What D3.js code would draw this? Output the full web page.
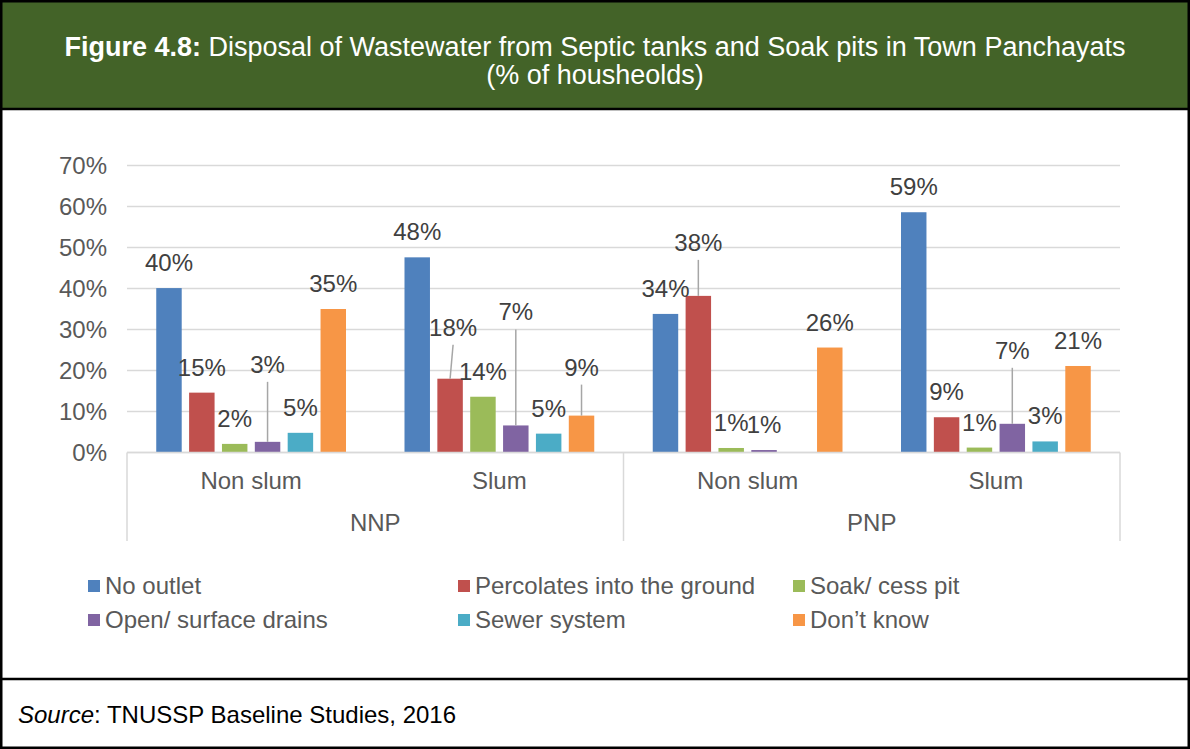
<!DOCTYPE html>
<html><head><meta charset="utf-8">
<script src="https://cdn.jsdelivr.net/npm/d3@7"></script>
<style>body{margin:0;background:#fff} svg{display:block}</style>
</head><body>
<script>
// ---- data ----
const groups = ["NNP", "PNP"];
const categories = ["Non slum", "Slum", "Non slum", "Slum"];
const categoryGroup = ["NNP", "NNP", "PNP", "PNP"];
const series = ["No outlet", "Percolates into the ground", "Soak/ cess pit", "Open/ surface drains", "Sewer system", "Don\u2019t know"];
const noOutlet   = [40.1, 47.6, 33.8, 58.6];
const percolates = [14.6, 18.0, 38.2, 8.6];
const soakPit    = [2.1, 13.6, 1.1, 1.2];
const openDrains = [2.6, 6.6, 0.6, 7.0];
const sewer      = [4.8, 4.6, null, 2.7];
const dontKnow   = [35.0, 9.0, 25.6, 21.1];
const yTicks = [0, 10, 20, 30, 40, 50, 60, 70];
const seriesValues = [noOutlet, percolates, soakPit, openDrains, sewer, dontKnow];

// ---- style / layout ----
const W = 1190, H = 749;
const colors = ["#4f81bd", "#c0504d", "#9bbb59", "#8064a2", "#4bacc6", "#f79646"];
const font = "'Liberation Sans', Arial, sans-serif";
const fs = 24;
const plot = {left: 127, right: 1120, top: 165.5, bottom: 452.5};
// manual label lifts (px) for labels moved with leader lines
const labelShift = [
  {c: 0, s: 3, lift: 52, dx: 0},
  {c: 1, s: 1, lift: 26, dx: 3},
  {c: 1, s: 3, lift: 88, dx: 0},
  {c: 1, s: 5, lift: 23, dx: 0},
  {c: 2, s: 1, lift: 28, dx: 0},
  {c: 3, s: 3, lift: 48, dx: 0}
];

const svg = d3.select("body").append("svg").attr("width", W).attr("height", H);
svg.append("rect").attr("x", 0).attr("y", 0).attr("width", W).attr("height", H).attr("fill", "#fff");

// title box
svg.append("rect").attr("x", 0).attr("y", 0).attr("width", W).attr("height", 109).attr("fill", "#436328");
const t1 = svg.append("text").attr("x", W / 2).attr("y", 56).attr("text-anchor", "middle")
  .attr("fill", "#fff").attr("font-family", font).attr("font-size", 27);
t1.append("tspan").attr("font-weight", "bold").text("Figure 4.8:");
t1.append("tspan").text(" Disposal of Wastewater from Septic tanks and Soak pits in Town Panchayats");
svg.append("text").attr("x", W / 2).attr("y", 84).attr("text-anchor", "middle")
  .attr("fill", "#fff").attr("font-family", font).attr("font-size", 27).text("(% of housheolds)");

// scales
const y = d3.scaleLinear().domain([0, 70]).range([plot.bottom, plot.top]);
const x0 = d3.scaleBand().domain(d3.range(categories.length)).range([plot.left, plot.right]).padding(0);
const x1 = d3.scaleBand().domain(d3.range(series.length)).range([0, x0.bandwidth()])
  .paddingInner(0.225).paddingOuter(0.89);

// gridlines
svg.append("g").selectAll("line").data(yTicks).join("line")
  .attr("x1", plot.left).attr("x2", plot.right)
  .attr("y1", d => y(d)).attr("y2", d => y(d))
  .attr("stroke", "#d9d9d9").attr("stroke-width", 1.5);

// y axis labels
const yAxis = svg.append("g").attr("transform", `translate(${plot.left - 20},0)`)
  .call(d3.axisLeft(y).tickValues(yTicks).tickSize(0).tickPadding(0).tickFormat(d => d + "%"));
yAxis.select(".domain").remove();
yAxis.selectAll("text").attr("font-family", font).attr("font-size", fs).attr("fill", "#595959");

// bars
const cats = svg.append("g").selectAll("g").data(d3.range(categories.length)).join("g")
  .attr("transform", c => `translate(${x0(c)},0)`);
cats.selectAll("rect").data(c => seriesValues.map((vals, s) => ({c, s, v: vals[c]})).filter(d => d.v != null))
  .join("rect")
  .attr("x", d => x1(d.s)).attr("width", x1.bandwidth())
  .attr("y", d => y(d.v)).attr("height", d => y(0) - y(d.v))
  .attr("fill", d => colors[d.s]);

// data labels
const labelData = [];
seriesValues.forEach((vals, s) => vals.forEach((v, c) => {
  if (v == null) return;
  const sh = labelShift.find(e => e.c === c && e.s === s);
  labelData.push({c, s, v, lift: sh ? sh.lift : 0, dx: sh ? sh.dx : 0});
}));
const cx = d => x0(d.c) + x1(d.s) + x1.bandwidth() / 2;
svg.append("g").selectAll("line").data(labelData.filter(d => d.lift > 0)).join("line")
  .attr("x1", d => cx(d) + d.dx).attr("y1", d => y(d.v) - 17 - d.lift + 9)
  .attr("x2", d => cx(d)).attr("y2", d => y(d.v))
  .attr("stroke", "#a6a6a6").attr("stroke-width", 1.5);
svg.append("g").selectAll("text").data(labelData).join("text")
  .attr("x", d => cx(d) + d.dx).attr("y", d => y(d.v) - 17 - d.lift)
  .attr("text-anchor", "middle").attr("font-family", font).attr("font-size", fs).attr("fill", "#404040")
  .text(d => Math.round(d.v) + "%");

// x axis: baseline, separators, labels
svg.append("line").attr("x1", plot.left).attr("x2", plot.right).attr("y1", y(0)).attr("y2", y(0))
  .attr("stroke", "#d9d9d9").attr("stroke-width", 1.5);
const sepIdx = [0, 2, 4];
svg.append("g").selectAll("line").data(sepIdx).join("line")
  .attr("x1", i => i < categories.length ? x0(i) : plot.right)
  .attr("x2", i => i < categories.length ? x0(i) : plot.right)
  .attr("y1", y(0)).attr("y2", 541)
  .attr("stroke", "#d9d9d9").attr("stroke-width", 1.5);
svg.append("g").selectAll("text").data(categories).join("text")
  .attr("x", (d, i) => x0(i) + x0.bandwidth() / 2).attr("y", 489)
  .attr("text-anchor", "middle").attr("font-family", font).attr("font-size", fs).attr("fill", "#595959")
  .text(d => d);
svg.append("g").selectAll("text").data(groups).join("text")
  .attr("x", g => {
    const idx = categoryGroup.map((cg, i) => cg === g ? i : -1).filter(i => i >= 0);
    return (x0(idx[0]) + x0(idx[idx.length - 1]) + x0.bandwidth()) / 2;
  })
  .attr("y", 531).attr("text-anchor", "middle").attr("font-family", font).attr("font-size", fs).attr("fill", "#595959")
  .text(d => d);

// legend
const legCols = [88, 458, 793];
const legRows = [594, 628];
const leg = svg.append("g").selectAll("g").data(series).join("g")
  .attr("transform", (d, i) => `translate(${legCols[i % 3]},${legRows[Math.floor(i / 3)]})`);
leg.append("rect").attr("x", 0).attr("y", -14).attr("width", 12).attr("height", 12).attr("fill", (d, i) => colors[i]);
leg.append("text").attr("x", 17).attr("y", 0).attr("font-family", font).attr("font-size", fs).attr("fill", "#595959")
  .text(d => d);

// source
const src = svg.append("text").attr("x", 18).attr("y", 723).attr("font-family", font).attr("font-size", fs).attr("fill", "#000");
src.append("tspan").attr("font-style", "italic").text("Source");
src.append("tspan").text(": TNUSSP Baseline Studies, 2016");

// borders
svg.append("line").attr("x1", 0).attr("x2", W).attr("y1", 109).attr("y2", 109).attr("stroke", "#000").attr("stroke-width", 2.5);
svg.append("line").attr("x1", 0).attr("x2", W).attr("y1", 679).attr("y2", 679).attr("stroke", "#000").attr("stroke-width", 2.5);
svg.append("rect").attr("x", 1.25).attr("y", 1.25).attr("width", W - 2.5).attr("height", H - 2.5)
  .attr("fill", "none").attr("stroke", "#000").attr("stroke-width", 2.5);
</script>
</body></html>
